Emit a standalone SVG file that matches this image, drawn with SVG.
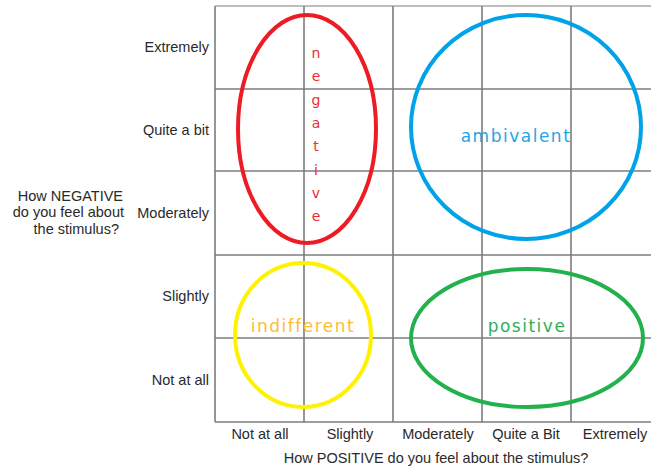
<svg xmlns="http://www.w3.org/2000/svg" width="651" height="469" viewBox="0 0 651 469">
  <style>
    .grid line { stroke: #7c7c7c; stroke-width: 1.6; }
    .axis { font-family: "Liberation Sans", Arial, sans-serif; font-size: 14.5px; fill: #2a2a2a; }
    .ring { fill: none; stroke-width: 4; }
    .tag { font-family: "DejaVu Sans", Verdana, sans-serif; font-size: 17px; letter-spacing: 1.5px; text-anchor: middle; }
    .vtag { font-family: "DejaVu Sans", Verdana, sans-serif; font-size: 14px; text-anchor: middle; fill: #ef2b2f; }
  </style>
  <rect width="651" height="469" fill="#ffffff"/>

  <!-- 5 x 5 rating grid -->
  <g id="grid" class="grid">
    <line x1="215" y1="6" x2="651" y2="6" style="stroke:#a8a8a8"/>
    <line x1="215" y1="89" x2="651" y2="89"/>
    <line x1="215" y1="171" x2="651" y2="171"/>
    <line x1="215" y1="255" x2="651" y2="255"/>
    <line x1="215" y1="338" x2="651" y2="338"/>
    <line x1="215" y1="422" x2="651" y2="422"/>
    <line x1="215" y1="6" x2="215" y2="422"/>
    <line x1="304" y1="6" x2="304" y2="422"/>
    <line x1="393" y1="6" x2="393" y2="422"/>
    <line x1="482" y1="6" x2="482" y2="422"/>
    <line x1="571" y1="6" x2="571" y2="422"/>
  </g>

  <!-- negative scale (rows) -->
  <g id="y-axis" class="axis" text-anchor="end">
    <text x="209" y="52">Extremely</text>
    <text x="209" y="135">Quite a bit</text>
    <text x="209" y="218">Moderately</text>
    <text x="209" y="301">Slightly</text>
    <text x="209" y="385">Not at all</text>
    <text x="123" y="201">How NEGATIVE</text>
    <text x="124" y="217">do you feel about</text>
    <text x="119" y="234">the stimulus?</text>
  </g>

  <!-- positive scale (columns) -->
  <g id="x-axis" class="axis" text-anchor="middle">
    <text x="260" y="439">Not at all</text>
    <text x="350" y="439">Slightly</text>
    <text x="438" y="439">Moderately</text>
    <text x="526" y="439">Quite a Bit</text>
    <text x="615" y="439">Extremely</text>
    <text x="436" y="463">How POSITIVE do you feel about the stimulus?</text>
  </g>

  <g id="negative">
    <ellipse class="ring" cx="307" cy="129" rx="69" ry="114" stroke="#ed1c24"/>
    <g class="vtag">
      <text x="316" y="58">n</text>
      <text x="316" y="81">e</text>
      <text x="316" y="105">g</text>
      <text x="316" y="128">a</text>
      <text x="316" y="151">t</text>
      <text x="316" y="175">i</text>
      <text x="316" y="198">v</text>
      <text x="316" y="221">e</text>
    </g>
  </g>

  <g id="ambivalent">
    <ellipse class="ring" cx="526" cy="127" rx="115" ry="112" stroke="#00a2e8"/>
    <text class="tag" x="516" y="142" fill="#1fa6e6">ambivalent</text>
  </g>

  <g id="indifferent">
    <ellipse class="ring" cx="303" cy="335" rx="68" ry="72" stroke="#fff200"/>
    <text class="tag" x="303" y="332" fill="#fbbd35">indifferent</text>
  </g>

  <g id="positive">
    <ellipse class="ring" cx="527" cy="338" rx="116" ry="69" stroke="#22b14c"/>
    <text class="tag" x="527" y="332" fill="#2fb05a">positive</text>
  </g>

  <g id="connectors"/>
</svg>
